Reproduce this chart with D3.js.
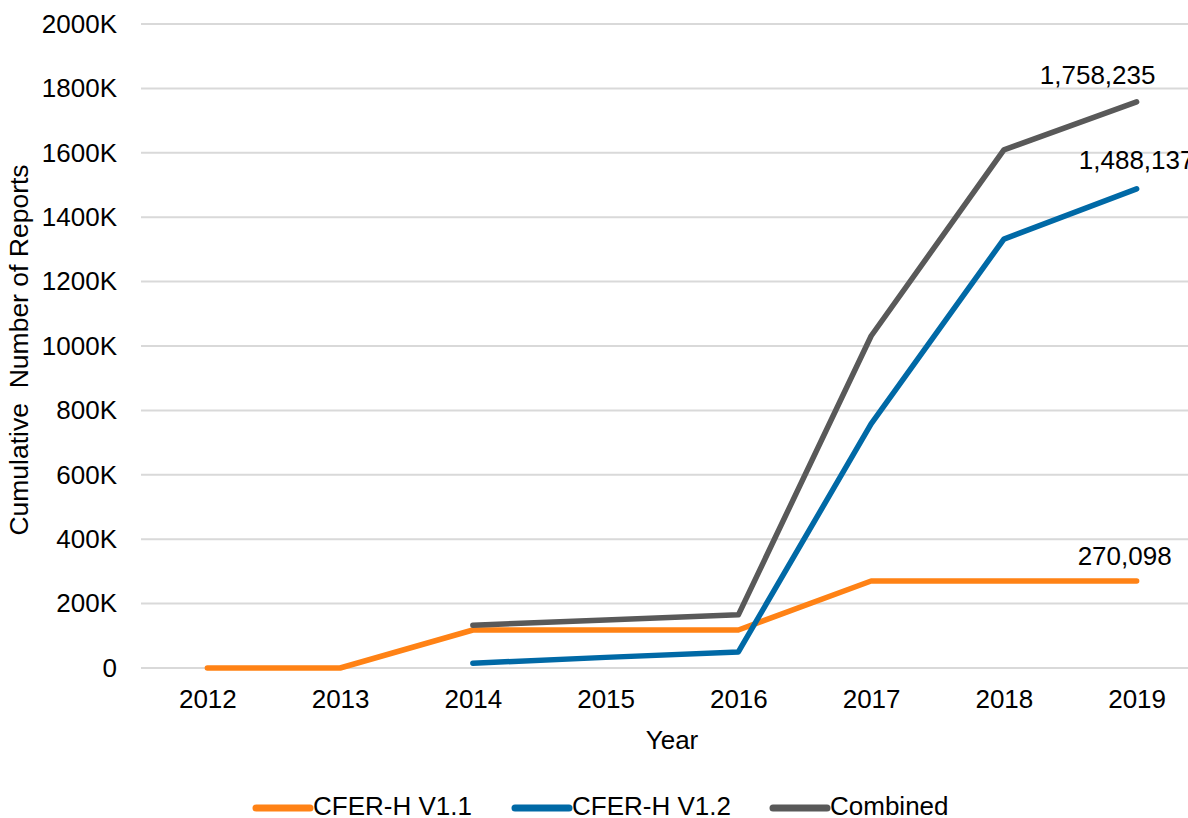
<!DOCTYPE html>
<html>
<head>
<meta charset="utf-8">
<script src="https://cdn.jsdelivr.net/npm/d3@7"></script>
<style>
  body { margin: 0; background: white; }
  svg { display: block; font-family: "Liberation Sans", Arial, sans-serif; }
</style>
</head>
<body>
<svg id="chart"></svg>
<script>
// cumulative reports line chart
var W = 1188;
var H = 818;
var margin = {top: 24, right: -15, bottom: 150, left: 141};

var years = ["2012", "2013", "2014", "2015", "2016", "2017", "2018", "2019"];
var v11 = [0, 0, 118000, 118000, 118000, 270098, 270098, 270098];
var v12 = [null, null, 15000, 33000, 50000, 758000, 1332000, 1488137];
var combined = [null, null, 133000, 149000, 165000, 1031000, 1609000, 1758235];
var yTicks = [0, 200000, 400000, 600000, 800000, 1000000, 1200000, 1400000, 1600000, 1800000, 2000000];

var series = [
  {name: "CFER-H V1.1", values: v11, color: "#FF8215", label: "270,098", dx: -12, dy: -16},
  {name: "CFER-H V1.2", values: v12, color: "#0069A6", label: "1,488,137", dx: 0, dy: -20},
  {name: "Combined", values: combined, color: "#595959", label: "1,758,235", dx: -39, dy: -18}
];

var svg = d3.select("#chart")
  .attr("width", W)
  .attr("height", H);

var x = d3.scalePoint()
  .domain(years)
  .range([margin.left, W - margin.right])
  .padding(0.5);

var y = d3.scaleLinear()
  .domain([0, 2000000])
  .range([H - margin.bottom, margin.top]);

// gridlines
svg.append("g")
  .selectAll("line")
  .data(yTicks)
  .enter()
  .append("line")
  .attr("x1", margin.left)
  .attr("x2", W)
  .attr("y1", d => y(d))
  .attr("y2", d => y(d))
  .attr("stroke", "#d9d9d9")
  .attr("stroke-width", 2);

var yAxis = g => g
  .attr("transform", `translate(${margin.left},0)`)
  .call(d3.axisLeft(y).tickValues(yTicks).tickSize(0).tickPadding(24)
    .tickFormat(d => d === 0 ? "0" : (d / 1000) + "K"))
  .call(g => g.select(".domain").remove())
  .call(g => g.selectAll("text").attr("font-size", 26).attr("fill", "#000").attr("font-family", null));

var xAxis = g => g
  .attr("transform", `translate(0,${H - margin.bottom})`)
  .call(d3.axisBottom(x).tickSize(0).tickPadding(22))
  .call(g => g.select(".domain").remove())
  .call(g => g.selectAll("text").attr("font-size", 26).attr("fill", "#000").attr("font-family", null));

svg.append("g").call(yAxis);
svg.append("g").call(xAxis);

var line = d3.line()
  .defined(d => d.v !== null)
  .x(d => x(d.year))
  .y(d => y(d.v));

series.forEach(s => {
  var pts = years.map((yr, i) => ({year: yr, v: s.values[i]}));
  svg.append("path")
    .datum(pts)
    .attr("fill", "none")
    .attr("stroke", s.color)
    .attr("stroke-width", 5.5)
    .attr("stroke-linejoin", "round")
    .attr("stroke-linecap", "round")
    .attr("d", line);

  var last = pts[pts.length - 1];
  svg.append("text")
    .attr("x", x(last.year) + s.dx)
    .attr("y", y(last.v) + s.dy)
    .attr("text-anchor", "middle")
    .attr("font-size", 26)
    .attr("fill", "#000")
    .text(s.label);
});

// axis titles
svg.append("text")
  .attr("x", 672)
  .attr("y", 749)
  .attr("text-anchor", "middle")
  .attr("font-size", 26)
  .text("Year");

svg.append("text")
  .attr("transform", "translate(28,350) rotate(-90)")
  .attr("text-anchor", "middle")
  .attr("font-size", 26.5)
  .attr("xml:space", "preserve")
  .style("white-space", "pre")
  .text("Cumulative  Number of Reports");

// legend
var legendX = [256, 515, 773];
var legend = svg.selectAll(".legend")
  .data(series)
  .enter()
  .append("g")
  .attr("class", "legend")
  .attr("transform", (d, i) => `translate(${legendX[i]},808)`);

legend.append("line")
  .attr("x1", 0)
  .attr("x2", 54)
  .attr("stroke", d => d.color)
  .attr("stroke-width", 7)
  .attr("stroke-linecap", "round");

legend.append("text")
  .attr("x", 57)
  .attr("y", 7)
  .attr("font-size", 26)
  .text(d => d.name);
</script>
</body>
</html>
